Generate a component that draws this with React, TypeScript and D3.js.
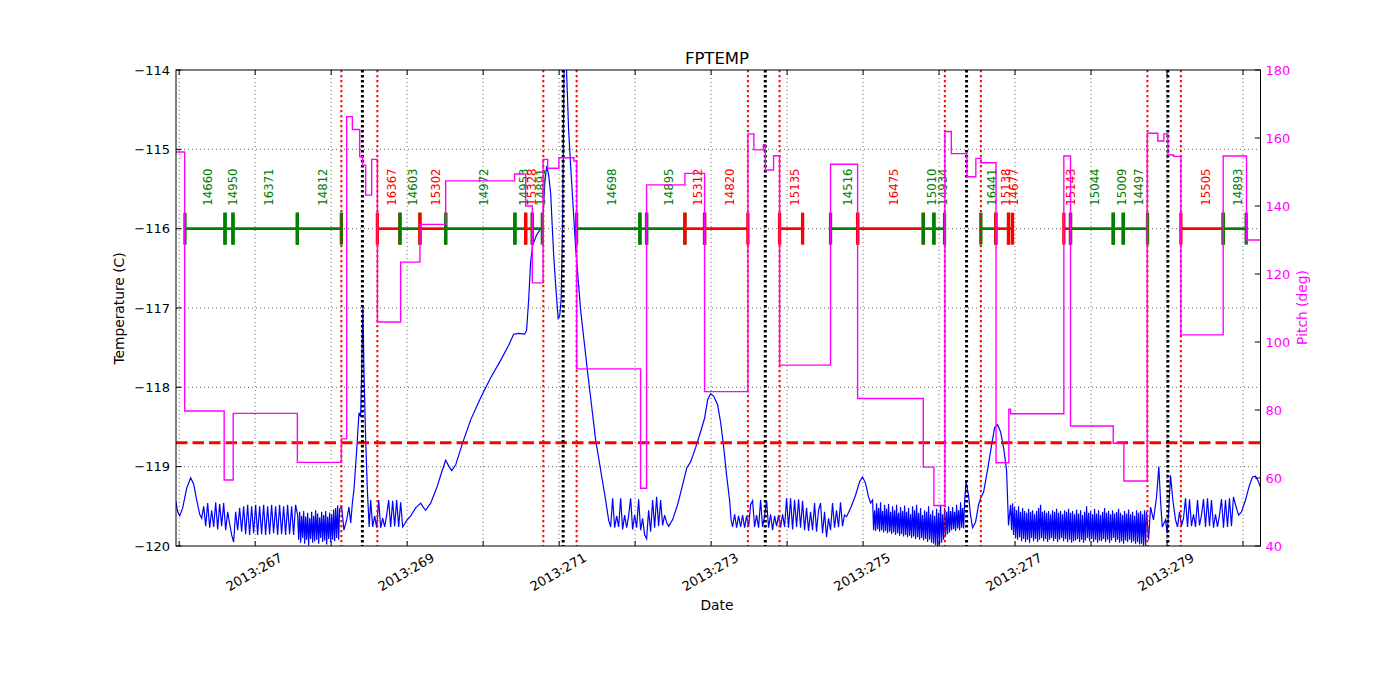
import * as d3 from "d3"

// x axis: day of year 2013
const dayTicks = [266, 267, 268, 269, 270, 271, 272, 273, 274, 275, 276, 277, 278, 279, 280]
const labelDays = [267, 269, 271, 273, 275, 277, 279]
const labelText = ["2013:267", "2013:269", "2013:271", "2013:273", "2013:275", "2013:277", "2013:279"]
const tempTicks = [-120, -119, -118, -117, -116, -115, -114]
const pitchTicks = [40, 60, 80, 100, 120, 140, 160, 180]

const planLimit = -118.7
const obsidLevel = -116

// maneuver boundaries (red) and momentum dumps (black)
const maneuverDays = [268.134, 268.608, 270.792, 271.23, 273.484, 273.901, 276.076, 276.55, 278.742, 279.182]
const dumpDays = [268.411, 271.053, 273.713, 276.362, 279.011]

// observations along the timeline
const obsidLabels = ["14660", "14950", "16371", "14812", "16367", "14603", "15302", "14972", "14953", "15328", "14891", "14698", "", "14895", "15312", "14820", "15135", "14516", "16475", "15010", "14934", "16441", "15138", "14677", "15143", "15044", "15009", "14497", "15505", "14893"]
const obsidStart = [266.076, 266.603, 266.708, 267.555, 268.608, 268.905, 269.168, 269.507, 270.418, 270.559, 270.647, 271.23, 272.063, 272.151, 272.655, 272.914, 273.901, 274.572, 274.928, 275.792, 275.932, 276.55, 276.747, 276.914, 277.642, 277.73, 278.292, 278.424, 279.182, 279.739]
const obsidStop = [266.603, 266.708, 267.555, 268.134, 268.905, 269.168, 269.507, 270.418, 270.559, 270.647, 270.779, 272.063, 272.151, 272.655, 272.914, 273.484, 274.204, 274.928, 275.792, 275.932, 276.072, 276.747, 276.914, 276.967, 277.73, 278.292, 278.424, 278.743, 279.739, 280.042]
const obsidHot = [false, false, false, false, true, false, true, false, false, true, false, false, false, false, true, true, true, false, true, false, false, false, true, true, true, false, false, false, true, false]

// pitch (deg), step changes
const pitchDays = [265.954, 266.072, 266.592, 266.711, 267.555, 268.134, 268.204, 268.279, 268.375, 268.414, 268.454, 268.533, 268.608, 268.914, 269.168, 269.507, 270.414, 270.559, 270.647, 270.789, 270.849, 270.997, 271.195, 271.23, 272.072, 272.151, 272.655, 272.914, 273.484, 273.563, 273.687, 273.713, 273.822, 273.901, 274.572, 274.928, 275.792, 275.932, 276.076, 276.161, 276.366, 276.484, 276.55, 276.75, 276.918, 276.941, 277.642, 277.73, 278.292, 278.432, 278.739, 278.879, 278.958, 279.011, 279.086, 279.182, 279.739, 280.046, 280.237]
const pitchValues = [155.9, 79.7, 59.4, 79.0, 64.6, 71.5, 166.3, 162.5, 154.5, 152.0, 143.2, 153.7, 105.9, 123.5, 134.6, 147.4, 149.4, 140.0, 117.4, 153.7, 151.1, 154.2, 153.2, 92.1, 57.0, 146.2, 149.6, 85.4, 161.2, 156.5, 158.0, 150.6, 154.8, 93.2, 152.3, 83.4, 63.2, 51.9, 161.9, 155.4, 148.6, 154.0, 152.7, 64.5, 80.2, 78.9, 154.7, 75.3, 70.2, 59.1, 161.4, 159.1, 161.2, 155.0, 154.6, 102.1, 154.7, 130.0, 130.0]

// FPTEMP (C): slow segments as [day, temp]
const tempLead = [[265.954, -119.43], [265.98, -119.57], [266.007, -119.62], [266.046, -119.52], [266.099, -119.27], [266.151, -119.14], [266.191, -119.22], [266.23, -119.42], [266.27, -119.6]]
const tempSpike268 = [[268.138, -119.51], [268.168, -119.8], [268.204, -119.67], [268.234, -119.51], [268.257, -119.71], [268.279, -119.46], [268.3, -119.29], [268.336, -118.79], [268.366, -118.32], [268.388, -118.37], [268.401, -117.82], [268.418, -116.99], [268.432, -117.82], [268.454, -118.66], [268.476, -119.29], [268.5, -119.76]]
const tempWarmup = [[268.941, -119.76], [268.993, -119.68], [269.046, -119.62], [269.112, -119.52], [269.178, -119.46], [269.204, -119.5], [269.243, -119.55], [269.309, -119.46], [269.388, -119.27], [269.454, -119.07], [269.507, -118.92], [269.546, -118.99], [269.586, -119.05], [269.638, -118.98], [269.73, -118.7], [269.836, -118.41], [269.967, -118.13], [270.099, -117.88], [270.23, -117.66], [270.336, -117.47], [270.401, -117.33], [270.467, -117.32], [270.546, -117.33], [270.572, -117.28], [270.599, -116.9], [270.625, -116.42], [270.651, -116.21], [270.704, -116.08], [270.757, -116.0], [270.783, -115.97], [270.809, -115.45], [270.836, -115.21], [270.862, -115.32], [270.888, -115.55], [270.928, -116.33], [270.954, -116.71], [270.987, -117.13], [271.007, -117.1], [271.026, -116.9], [271.046, -115.89], [271.066, -113.85], [271.092, -113.85], [271.125, -114.76], [271.151, -115.2], [271.217, -116.24], [271.283, -117.03], [271.375, -117.81], [271.48, -118.66], [271.546, -119.04], [271.612, -119.42], [271.651, -119.67]]
const tempBump273 = [[272.414, -119.7], [272.441, -119.75], [272.493, -119.67], [272.559, -119.48], [272.625, -119.23], [272.678, -119.02], [272.73, -118.94], [272.796, -118.76], [272.862, -118.56], [272.914, -118.39], [272.954, -118.16], [272.993, -118.08], [273.033, -118.11], [273.086, -118.22], [273.125, -118.44], [273.164, -118.74], [273.204, -119.11], [273.243, -119.42], [273.263, -119.67]]
const tempBump275 = [[274.783, -119.63], [274.836, -119.52], [274.901, -119.36], [274.954, -119.19], [274.993, -119.13], [275.033, -119.21], [275.072, -119.38], [275.099, -119.46]]
const tempBump276 = [[276.355, -119.19], [276.388, -119.36], [276.414, -119.61], [276.441, -119.77], [276.48, -119.7], [276.52, -119.48], [276.546, -119.4], [276.586, -119.32], [276.638, -119.04], [276.691, -118.73], [276.73, -118.51], [276.77, -118.47], [276.809, -118.56], [276.849, -118.76], [276.888, -119.04], [276.914, -119.74]]
const tempSpikes279 = [[278.757, -119.92], [278.783, -119.51], [278.822, -119.67], [278.862, -119.38], [278.892, -119.0], [278.914, -119.42], [278.937, -119.76], [278.98, -119.67], [279.003, -119.84], [279.024, -119.51], [279.046, -119.11], [279.076, -119.42], [279.112, -119.67]]
const tempTail = [[279.901, -119.48], [279.941, -119.61], [279.98, -119.57], [280.033, -119.42], [280.086, -119.23], [280.125, -119.13], [280.164, -119.12], [280.204, -119.19], [280.237, -119.28]]

// FPTEMP (C): regularly sampled noisy stretches
const sampleStep = 0.0263
const denseStep = 0.01316
const noiseAStart = 266.296
const noiseA = [-119.65, -119.5, -119.75, -119.46, -119.77, -119.55, -119.76, -119.45, -119.79, -119.47, -119.75, -119.46, -119.8, -119.57]
const noiseBStart = 266.664
const noiseB = [-119.72, -119.86, -119.95, -119.57, -119.8, -119.52, -119.82, -119.5, -119.85, -119.48, -119.86, -119.5, -119.84, -119.48, -119.86, -119.5, -119.85, -119.48, -119.86, -119.5, -119.85, -119.48, -119.84, -119.5, -119.86, -119.48, -119.85, -119.5, -119.86, -119.48, -119.85, -119.5, -119.86, -119.48]
const noiseCStart = 267.559
const noiseC = [-119.61, -119.92, -119.57, -119.96, -119.62, -119.9, -119.56, -119.97, -119.63, -119.92, -119.58, -119.99, -119.65, -119.91, -119.57, -119.96, -119.62, -119.94, -119.55, -119.92, -119.59, -119.97, -119.64, -119.9, -119.57, -119.95, -119.61, -119.93, -119.56, -119.98, -119.63, -119.91, -119.58, -119.95, -119.6, -119.92, -119.54, -119.94, -119.52, -119.9, -119.49, -119.92, -119.53]
const noiseDStart = 268.52
const noiseD = [-119.42, -119.76, -119.62, -119.77, -119.42, -119.77, -119.65, -119.76, -119.61, -119.42, -119.76, -119.43, -119.75, -119.42, -119.76, -119.45]
const noiseEStart = 271.678
const noiseE = [-119.76, -119.4, -119.77, -119.62, -119.76, -119.4, -119.79, -119.61, -119.77, -119.62, -119.4, -119.79, -119.61, -119.77, -119.41, -119.8, -119.65, -119.86, -119.91, -119.55, -119.82, -119.42, -119.77, -119.38, -119.75, -119.42, -119.74, -119.61]
const noiseFStart = 273.283
const noiseF = [-119.76, -119.6, -119.77, -119.62, -119.76, -119.61, -119.77, -119.62, -119.76, -119.48, -119.43, -119.76, -119.61, -119.77, -119.42, -119.76, -119.62, -119.43, -119.77, -119.6, -119.8, -119.62, -119.75, -119.61, -119.77, -119.6, -119.76, -119.4, -119.77, -119.4, -119.79, -119.42, -119.76, -119.41, -119.77, -119.43, -119.8, -119.52, -119.81, -119.57, -119.8, -119.46, -119.82, -119.55, -119.46, -119.84, -119.57, -119.89, -119.65, -119.8, -119.46, -119.77, -119.55, -119.76, -119.45, -119.75, -119.61]
const noiseGStart = 275.125
const noiseG = [
  -119.42, -119.8, -119.55, -119.81, -119.46, -119.79, -119.52, -119.82, -119.45, -119.8,
  -119.56, -119.83, -119.48, -119.81, -119.53, -119.84, -119.47, -119.82, -119.57, -119.85,
  -119.5, -119.83, -119.55, -119.86, -119.48, -119.84, -119.58, -119.87, -119.51, -119.85,
  -119.56, -119.88, -119.49, -119.86, -119.57, -119.89, -119.52, -119.87, -119.6, -119.9,
  -119.5, -119.88, -119.55, -119.91, -119.48, -119.89, -119.58, -119.92, -119.52, -119.9,
  -119.61, -119.93, -119.55, -119.91, -119.57, -119.95, -119.5, -119.92, -119.6, -119.96,
  -119.55, -119.97, -119.62, -119.99, -119.53, -120.0, -119.58, -119.98, -119.48, -119.96,
  -119.6, -119.92, -119.52, -119.88, -119.57, -119.85, -119.5, -119.83, -119.56, -119.8,
  -119.51, -119.79, -119.57, -119.81, -119.48, -119.78, -119.55, -119.8, -119.45, -119.77,
  -119.52, -119.78, -119.45,
]
const noiseHStart = 276.941
const noiseH = [
  -119.48, -119.8, -119.46, -119.86, -119.51, -119.9, -119.55, -119.92, -119.5, -119.89,
  -119.57, -119.94, -119.52, -119.91, -119.56, -119.95, -119.58, -119.92, -119.53, -119.96,
  -119.57, -119.9, -119.55, -119.94, -119.6, -119.91, -119.56, -119.95, -119.52, -119.92,
  -119.48, -119.9, -119.57, -119.94, -119.55, -119.91, -119.58, -119.95, -119.56, -119.92,
  -119.6, -119.9, -119.55, -119.94, -119.57, -119.91, -119.53, -119.95, -119.58, -119.92,
  -119.56, -119.9, -119.6, -119.94, -119.55, -119.91, -119.57, -119.95, -119.53, -119.92,
  -119.58, -119.96, -119.56, -119.94, -119.6, -119.93, -119.54, -119.91, -119.59, -119.95,
  -119.55, -119.92, -119.61, -119.96, -119.57, -119.93, -119.5, -119.9, -119.58, -119.94,
  -119.56, -119.91, -119.6, -119.95, -119.53, -119.92, -119.59, -119.96, -119.55, -119.93,
  -119.61, -119.94, -119.57, -119.91, -119.52, -119.95, -119.58, -119.92, -119.56, -119.96,
  -119.6, -119.93, -119.55, -119.9, -119.59, -119.95, -119.57, -119.92, -119.53, -119.96,
  -119.58, -119.94, -119.61, -119.97, -119.56, -119.93, -119.59, -119.95, -119.54, -119.92,
  -119.6, -119.96, -119.57, -119.94, -119.62, -119.97, -119.55, -119.95, -119.58, -119.98,
  -119.56, -119.97, -119.6, -120.0, -119.55, -119.99, -119.57,
]
const noiseIStart = 279.138
const noiseI = [-119.76, -119.57, -119.75, -119.65, -119.4, -119.76, -119.41, -119.75, -119.6, -119.76, -119.42, -119.74, -119.61, -119.41, -119.76, -119.4, -119.75, -119.42, -119.77, -119.6, -119.76, -119.61, -119.41, -119.77, -119.42, -119.76, -119.4, -119.75, -119.38]

const sampled = (start: number, step: number, values: number[]) =>
  values.map((v, i) => [start + i * step, v])

const tempSeries = [
  ...tempLead,
  ...sampled(noiseAStart, sampleStep, noiseA),
  ...sampled(noiseBStart, sampleStep, noiseB),
  ...sampled(noiseCStart, denseStep, noiseC),
  ...tempSpike268,
  ...sampled(noiseDStart, sampleStep, noiseD),
  ...tempWarmup,
  ...sampled(noiseEStart, sampleStep, noiseE),
  ...tempBump273,
  ...sampled(noiseFStart, sampleStep, noiseF),
  ...tempBump275,
  ...sampled(noiseGStart, denseStep, noiseG),
  ...tempBump276,
  ...sampled(noiseHStart, denseStep, noiseH),
  ...tempSpikes279,
  ...sampled(noiseIStart, sampleStep, noiseI),
  ...tempTail,
]

const font = "DejaVu Sans"
const margin = { left: 176, right: 1260.5, top: 70, bottom: 546 }

export default function App() {
  const x = d3.scaleLinear().domain([265.958, 280.23]).range([margin.left, margin.right])
  const yT = d3.scaleLinear().domain([-120, -114]).range([margin.bottom, margin.top])
  const yP = d3.scaleLinear().domain([40, 180]).range([margin.bottom, margin.top])

  const tempLine = d3
    .line<number[]>()
    .x(d => x(d[0]))
    .y(d => yT(d[1]))

  const pitchLine = d3
    .line<number>()
    .x((_, i) => x(pitchDays[i]))
    .y(d => yP(d))
    .curve(d3.curveStepAfter)

  const fmt = d3.format("d")
  const barY = yT(obsidLevel)

  return (
    <svg
      width={1400}
      height={700}
      style={{ position: "absolute", left: 0, top: 0, background: "white" }}
      fontFamily={font}
    >
      <defs>
        <clipPath id="plot-clip">
          <rect x={margin.left} y={margin.top} width={margin.right - margin.left} height={margin.bottom - margin.top} />
        </clipPath>
      </defs>

      {/* Grid */}
      <g stroke="black" strokeWidth={0.6} strokeDasharray="1,3">
        {dayTicks.map(d => (
          <line key={"gx" + d} x1={x(d)} x2={x(d)} y1={margin.top} y2={margin.bottom} />
        ))}
        {tempTicks.slice(1, -1).map(t => (
          <line key={"gy" + t} x1={margin.left} x2={margin.right} y1={yT(t)} y2={yT(t)} />
        ))}
      </g>

      {/* Temperature */}
      <path
        d={tempLine(tempSeries) || ""}
        fill="none"
        stroke="#0000ff"
        strokeWidth={1.2}
        clipPath="url(#plot-clip)"
      />

      {/* Obsid bars */}
      <g>
        {obsidLabels.map((id, i) => {
          const c = obsidHot[i] ? "#ff0000" : "#008000"
          const x0 = x(obsidStart[i])
          const x1 = x(obsidStop[i])
          return (
            <g key={"ob" + i} stroke={c}>
              <line x1={x0} x2={x1} y1={barY} y2={barY} strokeWidth={2.7} />
              <line x1={x0} x2={x0} y1={barY - 16} y2={barY + 16} strokeWidth={3.3} />
              <line x1={x1} x2={x1} y1={barY - 16} y2={barY + 16} strokeWidth={3.3} />
            </g>
          )
        })}
        {obsidLabels.map((id, i) => {
          const c = obsidHot[i] ? "#ff0000" : "#008000"
          const xm = x((obsidStart[i] + obsidStop[i]) / 2) + 3.5
          return (
            <text
              key={"ol" + i}
              transform={`translate(${xm},${barY - 23}) rotate(-90)`}
              fill={c}
              fontSize={11.7}
              dominantBaseline="central"
            >
              {id}
            </text>
          )
        })}
      </g>

      {/* Planning limit */}
      <line
        x1={margin.left}
        x2={margin.right}
        y1={yT(planLimit)}
        y2={yT(planLimit)}
        stroke="#ff0000"
        strokeWidth={3}
        strokeDasharray="11.5,5"
      />

      {/* Maneuvers and dumps */}
      {maneuverDays.map(d => (
        <line
          key={"mv" + d}
          x1={x(d)}
          x2={x(d)}
          y1={margin.top}
          y2={margin.bottom}
          stroke="#ff0000"
          strokeWidth={2}
          strokeDasharray="2.3,2.7"
        />
      ))}
      {dumpDays.map(d => (
        <line
          key={"md" + d}
          x1={x(d)}
          x2={x(d)}
          y1={margin.top}
          y2={margin.bottom}
          stroke="black"
          strokeWidth={3}
          strokeDasharray="2.5,2.5"
        />
      ))}

      {/* Pitch */}
      <path
        d={pitchLine(pitchValues) || ""}
        fill="none"
        stroke="#ff00ff"
        strokeWidth={1.4}
        clipPath="url(#plot-clip)"
      />

      {/* Frame */}
      <rect
        x={margin.left}
        y={margin.top}
        width={margin.right - margin.left}
        height={margin.bottom - margin.top}
        fill="none"
        stroke="black"
        strokeWidth={1}
      />

      {/* X ticks */}
      <g stroke="black" strokeWidth={1}>
        {dayTicks.map(d => (
          <g key={"tx" + d}>
            <line x1={x(d)} x2={x(d)} y1={margin.bottom} y2={margin.bottom - 5} />
            <line x1={x(d)} x2={x(d)} y1={margin.top} y2={margin.top + 5} />
          </g>
        ))}
      </g>
      {labelDays.map((d, i) => (
        <text
          key={"lx" + d}
          transform={`translate(${x(d) - 1},572) rotate(-30)`}
          textAnchor="middle"
          dominantBaseline="central"
          fontSize={13}
          fill="black"
        >
          {labelText[i]}
        </text>
      ))}

      {/* Left axis */}
      {tempTicks.map(t => (
        <g key={"ty" + t}>
          <line x1={margin.left} x2={margin.left + 5.6} y1={yT(t)} y2={yT(t)} stroke="black" />
          <text x={170} y={yT(t)} textAnchor="end" dominantBaseline="central" fontSize={13} fill="black">
            {fmt(t)}
          </text>
        </g>
      ))}

      {/* Right axis */}
      {pitchTicks.map(p => (
        <g key={"tp" + p}>
          <line x1={margin.right - 5.6} x2={margin.right} y1={yP(p)} y2={yP(p)} stroke="black" />
          <text x={1265.5} y={yP(p)} dominantBaseline="central" fontSize={13} fill="#ff00ff">
            {p}
          </text>
        </g>
      ))}

      {/* Titles */}
      <text x={717} y={64} textAnchor="middle" fontSize={16.5} fill="black">
        FPTEMP
      </text>
      <text x={717} y={610} textAnchor="middle" fontSize={13.8} fill="black">
        Date
      </text>
      <text transform="translate(123.5,308.5) rotate(-90)" textAnchor="middle" fontSize={13.8} fill="black">
        Temperature (C)
      </text>
      <text transform="translate(1307,307.5) rotate(-90)" textAnchor="middle" fontSize={13.8} fill="#ff00ff">
        Pitch (deg)
      </text>
    </svg>
  )
}
